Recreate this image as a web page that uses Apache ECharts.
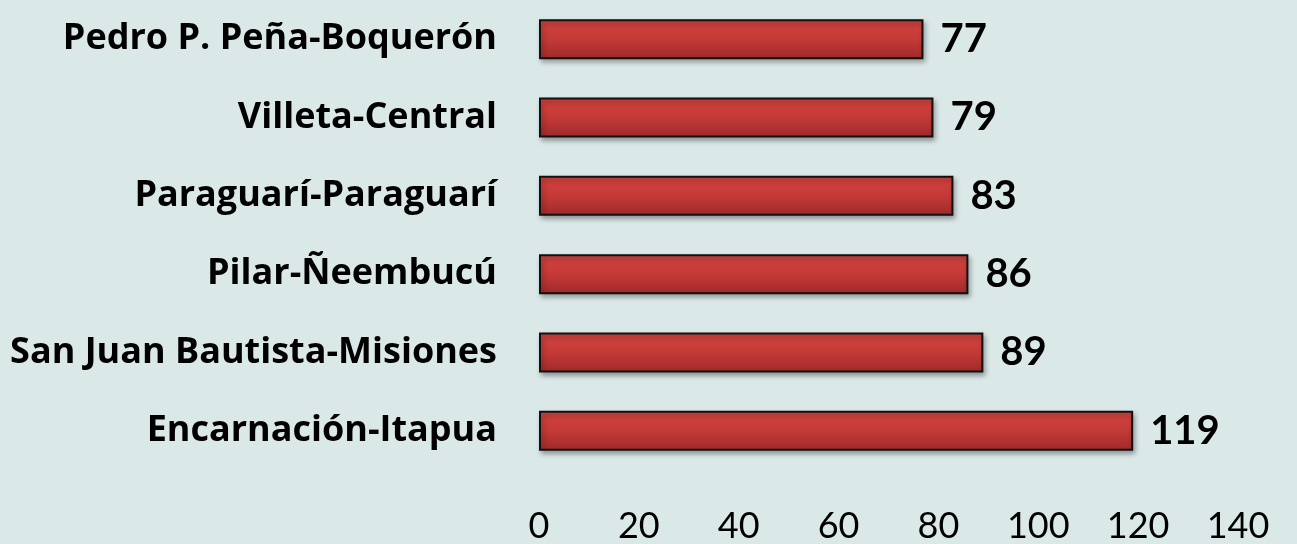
<!DOCTYPE html>
<html>
<head>
<meta charset="utf-8">
<script src="https://cdn.jsdelivr.net/npm/echarts@6/dist/echarts.min.js"></script>
<style>
    html, body { margin: 0; padding: 0; background: #dbe8e8; }
    #chart { width: 1297px; height: 544px; }
</style>
</head>
<body>
<div id="chart"></div>
<script>
// datos
const cities = [
    "Pedro P. Peña-Boquerón",
    "Villeta-Central",
    "Paraguarí-Paraguarí",
    "Pilar-Ñeembucú",
    "San Juan Bautista-Misiones",
    "Encarnación-Itapua"
];
const values = [77, 79, 83, 86, 89, 119];
const xTicks = [0, 20, 40, 60, 80, 100, 120, 140];

const chart = echarts.init(document.getElementById("chart"));

const option = {
    backgroundColor: "#dbe8e8",
    grid: {
        left: 539,
        right: 59,
        top: -7,
        height: 480
    },
    xAxis: {
        type: "value",
        min: xTicks[0],
        max: xTicks[xTicks.length - 1],
        interval: xTicks[1] - xTicks[0],
        axisLine: { show: false },
        axisTick: { show: false },
        splitLine: { show: false },
        axisLabel: {
            margin: 38,
            fontFamily: "Lato",
            fontSize: 36,
            color: "#000"
        }
    },
    yAxis: {
        type: "category",
        inverse: true,
        data: cities,
        axisLine: { show: false },
        axisTick: { show: false },
        axisLabel: {
            margin: 42,
            fontFamily: "Open Sans",
            fontWeight: "bold",
            fontSize: 36,
            color: "#000"
        }
    },
    series: [
        {
            type: "bar",
            data: values,
            barWidth: 40,
            itemStyle: {
                color: new echarts.graphic.LinearGradient(0, 0, 0, 1, [
                    { offset: 0, color: "#d3433f" },
                    { offset: 0.5, color: "#c43a37" },
                    { offset: 1, color: "#9e2a2a" }
                ]),
                borderColor: "#111",
                borderWidth: 2,
                shadowColor: "rgba(0,0,0,0.35)",
                shadowBlur: 5,
                shadowOffsetX: 2,
                shadowOffsetY: 3
            },
            label: {
                show: true,
                position: "right",
                distance: 17,
                fontFamily: "Lato",
                fontWeight: "bold",
                fontSize: 40,
                color: "#000"
            }
        }
    ]
};

chart.setOption(option);
</script>
</body>
</html>
